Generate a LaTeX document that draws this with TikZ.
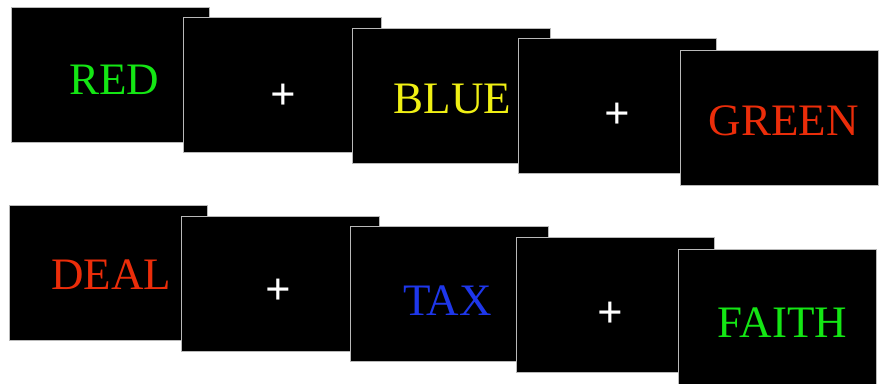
\documentclass[tikz,border=0pt]{standalone}
\usepackage{fontspec}
\setmainfont{Liberation Serif}
\definecolor{wgreen}{RGB}{20,230,20}
\definecolor{wyellow}{RGB}{240,240,20}
\definecolor{wred}{RGB}{235,45,10}
\definecolor{wblue}{RGB}{30,55,235}
\begin{document}
\begin{tikzpicture}[x=1pt,y=-1pt,
  screen/.style={draw=gray!55,line width=1.3pt,fill=black,minimum width=198pt,minimum height=135pt,inner sep=0pt,anchor=north west},
  word/.style={inner sep=0pt,anchor=base,font=\fontsize{45}{54}\selectfont},
  fix/.style={inner sep=0pt,text=white,font=\fontsize{45}{54}\selectfont\bfseries}]
\useasboundingbox[fill=white] (0,0) rectangle (882,383);
% top row
\node[screen] (b1) at (11,7) {};
\node[word,text=wgreen] (t1) at (114,94) {RED};
\node[screen] (b2) at (183,17) {};
\node[fix] (p1) at (283,97) {+};
\node[screen] (b3) at (352,28) {};
\node[word,text=wyellow] (t3) at (452.5,113) {BLUE};
\node[screen] (b4) at (518,38) {};
\node[fix] (p2) at (617,116) {+};
\node[screen] (b5) at (680,50) {};
\node[word,text=wred] (t5) at (783.5,135) {GREEN};
% bottom row
\node[screen] (c1) at (9,205) {};
\node[word,text=wred] (u1) at (111,289) {DEAL};
\node[screen] (c2) at (181,216) {};
\node[fix] (q1) at (278,292) {+};
\node[screen] (c3) at (350,226) {};
\node[word,text=wblue] (u3) at (447.5,315) {TAX};
\node[screen] (c4) at (516,237) {};
\node[fix] (q2) at (610,315) {+};
\node[screen] (c5) at (678,249) {};
\node[word,text=wgreen] (u5) at (782.5,337) {FAITH};
\end{tikzpicture}
\end{document}
